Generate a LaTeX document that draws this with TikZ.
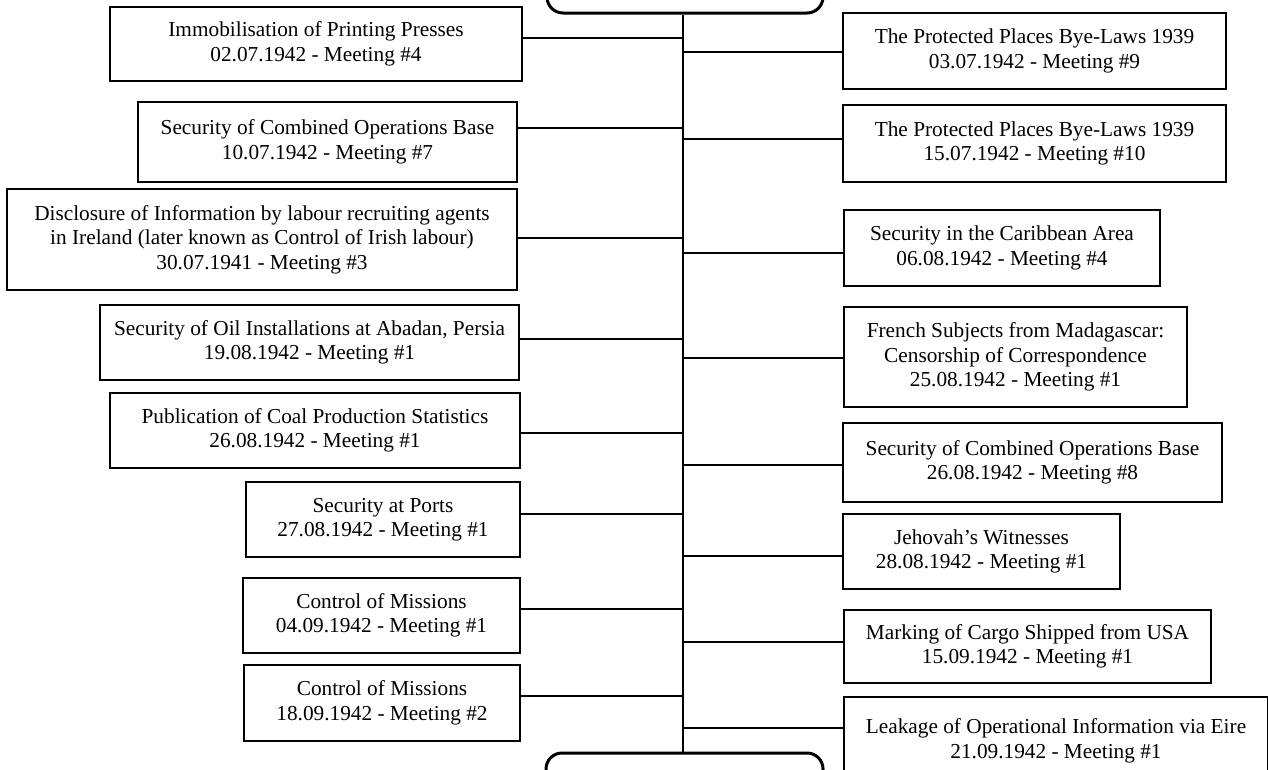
\documentclass[tikz,border=0pt]{standalone}
\usepackage{fontspec}
\setmainfont{Liberation Serif}
\begin{document}
\begin{tikzpicture}[x=1pt,y=-1pt,
  box/.style={draw=black, line width=2.6pt, inner sep=0pt, align=center,
              font=\fontsize{21.3}{24.5}\selectfont},
  endcap/.style={draw=black, line width=3pt, rounded corners=16pt},
  link/.style={draw=black, line width=1.3pt}]
\useasboundingbox (0,0) rectangle (1268,769);
\clip (0,0) rectangle (1268,769);

% start and end terminals of the timeline
\node[endcap, minimum width=276pt, minimum height=80pt] (top) at (685,-27) {};
\node[endcap, minimum width=277pt, minimum height=80pt] (bot) at (684.5,793) {};

% left column
\node[box, minimum width=412pt, minimum height=74pt] (L1) at (316,44)
  {Immobilisation of Printing Presses\\02.07.1942 - Meeting \#4};
\node[box, minimum width=379pt, minimum height=80pt] (L2) at (327.5,142)
  {Security of Combined Operations Base\\10.07.1942 - Meeting \#7};
\node[box, minimum width=510pt, minimum height=101pt] (L3) at (262,239.5)
  {Disclosure of Information by labour recruiting agents\\in Ireland (later known as Control of Irish labour)\\30.07.1941 - Meeting \#3};
\node[box, minimum width=419pt, minimum height=75pt] (L4) at (309.5,342.5)
  {Security of Oil Installations at Abadan, Persia\\19.08.1942 - Meeting \#1};
\node[box, minimum width=410pt, minimum height=75pt] (L5) at (315,430.5)
  {Publication of Coal Production Statistics\\26.08.1942 - Meeting \#1};
\node[box, minimum width=274pt, minimum height=75pt] (L6) at (383,519.5)
  {Security at Ports\\27.08.1942 - Meeting \#1};
\node[box, minimum width=277pt, minimum height=75pt] (L7) at (381.5,615.5)
  {Control of Missions\\04.09.1942 - Meeting \#1};
\node[box, minimum width=276pt, minimum height=76pt] (L8) at (382,703)
  {Control of Missions\\18.09.1942 - Meeting \#2};

% right column
\node[box, minimum width=383pt, minimum height=76pt] (R1) at (1034.5,51)
  {The Protected Places Bye-Laws 1939\\03.07.1942 - Meeting \#9};
\node[box, minimum width=383pt, minimum height=77pt] (R2) at (1034.5,143.5)
  {The Protected Places Bye-Laws 1939\\15.07.1942 - Meeting \#10};
\node[box, minimum width=316pt, minimum height=76pt] (R3) at (1002,248)
  {Security in the Caribbean Area\\06.08.1942 - Meeting \#4};
\node[box, minimum width=343pt, minimum height=100pt] (R4) at (1015.5,357)
  {French Subjects from Madagascar:\\Censorship of Correspondence\\25.08.1942 - Meeting \#1};
\node[box, minimum width=379pt, minimum height=79pt] (R5) at (1032.5,462.5)
  {Security of Combined Operations Base\\26.08.1942 - Meeting \#8};
\node[box, minimum width=277pt, minimum height=75pt] (R6) at (981.5,551.5)
  {Jehovah’s Witnesses\\28.08.1942 - Meeting \#1};
\node[box, minimum width=367pt, minimum height=73pt] (R7) at (1027.5,646.5)
  {Marking of Cargo Shipped from USA\\15.09.1942 - Meeting \#1};
\node[box, minimum width=424pt, minimum height=88pt] (R8) at (1056,741)
  {Leakage of Operational Information via Eire\\21.09.1942 - Meeting \#1};

% central spine
\coordinate (tx) at (683,0);
\draw[link] (top.south -| tx) -- (bot.north -| tx);

% branches to the left column
\foreach \n/\y in {L1/38, L2/128, L3/238, L4/339, L5/433, L6/514, L7/609, L8/696}{
  \coordinate (yy) at (0,\y);
  \draw[link] (\n.east |- yy) -- (tx |- yy);
}
% branches to the right column
\foreach \n/\y in {R1/52, R2/139, R3/253, R4/358, R5/465, R6/556, R7/642, R8/728}{
  \coordinate (yy) at (0,\y);
  \draw[link] (tx |- yy) -- (\n.west |- yy);
}
\end{tikzpicture}
\end{document}
